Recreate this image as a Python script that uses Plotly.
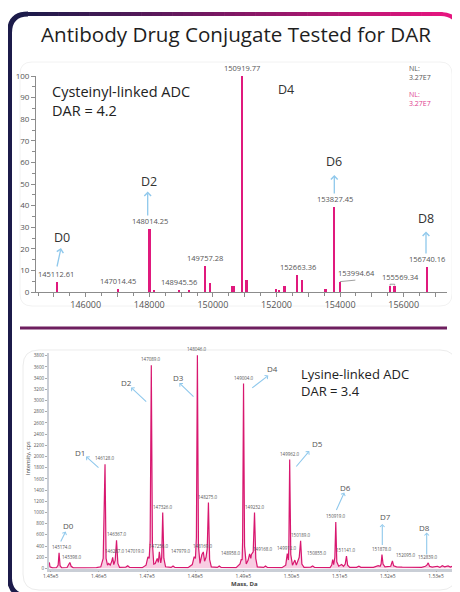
import plotly.graph_objects as go

W, H = 460, 592
OFF = 8  # the page body adds an 8px margin; compensate so the figure lands where the reference has it

# ---------------- data: cysteinyl-linked ADC (deconvoluted sticks) ----------------
cys_mass = [145112.61, 147014.45, 148014.25, 148150, 148945.56, 149248, 149757.28, 149909,
            150600, 150665, 150919.77, 151063, 151984, 152088, 152258, 152663.36, 152802,
            153547, 153827.45, 153994.64, 155569.34, 155717, 156740.16]
cys_int = [4.8, 1.3, 29.0, 0.5, 1.0, 0.5, 12.2, 4.3, 3.0, 3.0, 100, 5.5, 1.3, 1.0, 3.0, 7.7, 5.7,
           1.3, 39.2, 4.6, 2.6, 2.6, 11.6]
cys_labelled = [145112.61, 147014.45, 148014.25, 148945.56, 149757.28, 150919.77, 152663.36,
                153827.45, 153994.64, 155569.34, 156740.16]
cys_x_ticks = [145000, 146000, 147000, 148000, 149000, 150000, 151000, 152000, 153000,
               154000, 155000, 156000, 157000]

# ---------------- data: lysine-linked ADC (profile spectrum) ----------------
lys_mass = [144972, 144985, 145040, 145120, 145155, 145174, 145195, 145230, 145340, 145375, 145398,
            145425, 145470, 145700, 145950, 146040, 146090, 146128, 146150, 146180, 146205, 146235,
            146265, 146287, 146310, 146340, 146367, 146395, 146430, 146560, 146600, 146640, 146900,
            146980, 147019, 147045, 147065, 147089, 147112, 147140, 147170, 147212, 147235, 147256,
            147285, 147305, 147326, 147350, 147385, 147500, 147540, 147580, 147850, 147940, 147979,
            148005, 148025, 148046, 148068, 148100, 148140, 148169, 148195, 148225, 148250, 148275,
            148300, 148335, 148460, 148500, 148540, 148850, 148930, 148958, 148975, 148985, 149004,
            149025, 149060, 149100, 149130, 149155, 149168, 149205, 149232, 149258, 149290, 149420,
            149460, 149500, 149800, 149880, 149912, 149935, 149945, 149962, 149985, 150020, 150070,
            150100, 150160, 150189, 150215, 150260, 150400, 150440, 150480, 150800, 150835, 150855,
            150875, 150900, 150919, 150940, 150980, 151040, 151080, 151115, 151141, 151165, 151210,
            151350, 151400, 151440, 151700, 151800, 151840, 151860, 151878, 151900, 151940, 152060,
            152095, 152120, 152180, 152300, 152450, 152700, 152780, 152810, 152839, 152865, 152920,
            153030, 153080, 153130, 153180, 153250, 153300, 153332]
lys_int = [110, 30, 12, 14, 60, 279, 50, 12, 18, 70, 107,
           40, 12, 12, 15, 30, 180, 1862, 180, 60, 90, 60,
           120, 200, 70, 150, 505, 90, 20, 25, 50, 20, 15,
           60, 207, 180, 500, 3630, 450, 80, 90, 180, 110, 296,
           100, 200, 1000, 180, 30, 20, 45, 20, 15, 70, 210,
           180, 550, 3809, 400, 90, 250, 296, 130, 200, 350, 1178,
           160, 30, 20, 45, 20, 15, 80, 166, 150, 500, 3303,
           400, 80, 150, 260, 180, 250, 300, 1000, 180, 30, 20,
           45, 20, 15, 60, 268, 150, 400, 1946, 250, 60, 150,
           60, 200, 493, 80, 20, 25, 45, 20, 15, 60, 161,
           70, 200, 832, 120, 40, 70, 40, 80, 220, 60, 20,
           20, 40, 20, 20, 50, 40, 80, 250, 80, 30, 40,
           136, 50, 30, 25, 20, 20, 40, 60, 100, 40, 25,
           40, 20, 50, 30, 45, 25, 40]
lys_labelled = [145174, 145398, 146128, 146287, 146367, 147019, 147089, 147256, 147326, 147979,
                148046, 148169, 148275, 148958, 149004, 149168, 149232, 149912, 149962, 150189,
                150855, 150919, 151141, 151878, 152095, 152839]
lys_x_ticks = [145000, 146000, 147000, 148000, 149000, 150000, 151000, 152000, 153000]
lys_x_text = ["1.45e5", "1.46e5", "1.47e5", "1.48e5", "1.49e5", "1.50e5", "1.51e5", "1.52e5", "1.53e5"]

FONT = "Open Sans"
MAGENTA = "#e0197d"
BLUE = "#8fc8ec"


def P(x, y):
    return (x - OFF) / W, 1 - (y - OFF) / H


def path(cmds):
    out = []
    for c in cmds:
        if isinstance(c, str):
            out.append(c)
        else:
            a, b = P(*c)
            out.append(f"{a:.5f},{b:.5f}")
    return " ".join(out)


def rrect(x0, y0, x1, y1, r):
    return path(["M", (x0 + r, y0), "L", (x1 - r, y0), "Q", (x1, y0), (x1, y0 + r),
                 "L", (x1, y1 - r), "Q", (x1, y1), (x1 - r, y1), "L", (x0 + r, y1),
                 "Q", (x0, y1), (x0, y1 - r), "L", (x0, y0 + r), "Q", (x0, y0), (x0 + r, y0), "Z"])


fig = go.Figure()

# top sticks
fig.add_trace(go.Bar(x=cys_mass, y=cys_int, width=55, marker=dict(color=MAGENTA, line=dict(width=0)),
                     xaxis="x", yaxis="y", showlegend=False, hoverinfo="x+y"))

# bottom profile
fig.add_trace(go.Scatter(x=lys_mass, y=lys_int, mode="lines", xaxis="x2", yaxis="y2",
                         line=dict(color="#d8176f", width=1.2), fill="tozeroy",
                         fillcolor="rgba(232,90,160,0.30)", showlegend=False))

shapes = []
annotations = []

# outer frame (gradient top edge)
navy = (28, 27, 74)
mag = (229, 21, 127)
shapes.append(dict(type="path", xref="paper", yref="paper",
                   path=path(["M", (28, 14), "Q", (9.5, 14), (9.5, 33), "L", (9.5, 578), "Q", (9.5, 594), (26, 597)]),
                   line=dict(color="rgb(28,27,74)", width=5)))
N = 40
x_start, x_end = 27, 442
for i in range(N):
    t = (i + 0.5) / N
    col = tuple(round(navy[k] + (mag[k] - navy[k]) * t) for k in range(3))
    xa = x_start + (x_end - x_start) * i / N
    xb = x_start + (x_end - x_start) * (i + 1) / N + 0.6
    a0, b0 = P(xa, 14)
    a1, b1 = P(xb, 14)
    shapes.append(dict(type="line", xref="paper", yref="paper", x0=a0, y0=b0, x1=a1, y1=b1,
                       line=dict(color=f"rgb{col}", width=4)))
shapes.append(dict(type="path", xref="paper", yref="paper",
                   path=path(["M", (441, 14), "Q", (459, 14), (461, 36)]),
                   line=dict(color="rgb(229,21,127)", width=4)))

# faint panels
shapes.append(dict(type="path", xref="paper", yref="paper", path=rrect(20, 62, 452, 306, 12),
                   line=dict(color="#f2f2f2", width=1), layer="below"))
shapes.append(dict(type="path", xref="paper", yref="paper", path=rrect(23, 350, 456, 590, 16),
                   line=dict(color="#ececec", width=1), layer="below"))

# separator
a0, b0 = P(20, 328)
a1, b1 = P(447, 328)
shapes.append(dict(type="line", xref="paper", yref="paper", x0=a0, y0=b0, x1=a1, y1=b1,
                   line=dict(color="#6e1f5f", width=3)))


def ptext(x, y, text, size, color="#333", xanchor="center", angle=0):
    a, b = P(x, y)
    annotations.append(dict(x=a, y=b, xref="paper", yref="paper", text=text, showarrow=False,
                            xanchor=xanchor, yanchor="middle", textangle=angle, align=xanchor if xanchor != "center" else "center",
                            font=dict(family=FONT, size=size, color=color)))


def parrow(tx_, ty_, hx, hy, width=1.3, size=1.0):
    a, b = P(hx, hy)
    annotations.append(dict(x=a, y=b, xref="paper", yref="paper", text="", showarrow=True,
                            ax=tx_ - hx, ay=ty_ - hy, axref="pixel", ayref="pixel",
                            arrowhead=4, arrowsize=size, arrowwidth=width, arrowcolor=BLUE, standoff=0,
                            startstandoff=0))


# title
ptext(236, 34, "Antibody Drug Conjugate Tested for DAR", 20.6, "#1e1e1e")

# top chart texts
ptext(50, 101, "Cysteinyl-linked ADC<br>DAR = 4.2", 14.5, "#222", "left")
ptext(407, 73, "NL:<br>3.27E7", 7, "#555", "left")
ptext(407, 99, "NL:<br>3.27E7", 7, "#e0408f", "left")
for lab, (x, y) in {"D0": (62, 237), "D2": (149, 181), "D4": (286, 89), "D6": (334, 162), "D8": (426, 219)}.items():
    ptext(x, y, lab, 12.5, "#333")
parrow(56.7, 268, 61, 248)
parrow(147.7, 217, 147.7, 191.5)
parrow(334.3, 195, 334.3, 175)
parrow(426, 255, 426, 231.5)

# top peak labels (data coords)
shift = {153994.64: (17, 2), 155569.34: (10, 2), 145112.61: (-1, 1)}
for m in cys_labelled:
    h = cys_int[cys_mass.index(m)]
    dx, dy = shift.get(m, (0, 1))
    annotations.append(dict(x=m, y=h, xref="x", yref="y", text=f"{m:.2f}", showarrow=False,
                            yanchor="bottom", xanchor="center", xshift=dx, yshift=dy,
                            font=dict(family=FONT, size=7.5, color="#555")))
shapes.append(dict(type="line", xref="x", yref="y", x0=153994.64, y0=4.8, x1=154480, y1=5.5,
                   line=dict(color="#888", width=0.8)))
shapes.append(dict(type="path", xref="x", yref="y",
                   path="M 155569.34,3.0 L 155569.34,3.6 L 155717,3.6 L 155717,3.0",
                   line=dict(color="#888", width=0.8)))

# bottom chart texts
ptext(299, 382, "Lysine-linked ADC<br>DAR = 3.4", 13, "#222", "left")
bl = {"D0": (68, 525), "D1": (79.5, 452), "D2": (126, 382), "D3": (178.5, 377), "D4": (272, 368),
      "D5": (317.5, 443), "D6": (345, 487), "D7": (385, 516), "D8": (424.5, 527)}
for lab, (x, y) in bl.items():
    ptext(x, y, lab, 8, "#555")
parrow(60, 543, 65.7, 531.5, 1.1, 0.8)
parrow(100, 469, 86, 456.5, 1.1, 0.8)
parrow(147.7, 403, 131, 387.5, 1.1, 0.8)
parrow(195, 398, 179.3, 383, 1.1, 0.8)
parrow(250.7, 389, 268.3, 375.5, 1.1, 0.8)
parrow(295, 468, 309.3, 451, 1.1, 0.8)
parrow(335.7, 511.5, 344.3, 492.5, 1.1, 0.8)
parrow(382.3, 546.5, 382.3, 524, 1.1, 0.8)
parrow(426.7, 556, 426.7, 532.5, 1.1, 0.8)

lshift = {145174: 3, 145398: 2, 146287: 2, 147019: -13, 147979: -13, 148958: -10, 149168: 12,
          150855: -16, 152095: 14}
for m in lys_labelled:
    h = lys_int[lys_mass.index(m)]
    annotations.append(dict(x=m, y=h, xref="x2", yref="y2", text=f"{m:.1f}", showarrow=False,
                            yanchor="bottom", xanchor="center", yshift=1, xshift=lshift.get(m, 0),
                            font=dict(family=FONT, size=4.5, color="#555")))

ptext(28, 458, "Intensity, cps", 5.5, "#444", angle=-90)
ptext(244, 583.5, "<b>Mass, Da</b>", 6, "#444")

x0, _ = P(36, 0)
x1, _ = P(447, 0)
_, y0 = P(0, 292)
_, y1 = P(0, 76)
bx0, _ = P(49, 0)
bx1, _ = P(452, 0)
_, by0 = P(0, 568.5)
_, by1 = P(0, 353)

fig.update_layout(
    width=W, height=H, autosize=False,
    margin=dict(l=0, r=0, t=0, b=0, pad=0, autoexpand=False),
    paper_bgcolor="white", plot_bgcolor="rgba(0,0,0,0)",
    bargap=0,
    font=dict(family=FONT),
    xaxis=dict(domain=[x0, x1], range=[144437, 157362], showgrid=False, zeroline=False, automargin=False,
               showline=True, linecolor="#8c8c8c", linewidth=1,
               ticks="outside", ticklen=4, tickcolor="#8c8c8c", tickwidth=1,
               tickmode="array", tickvals=cys_x_ticks,
               ticktext=[str(v) if v % 2000 == 0 else "" for v in cys_x_ticks],
               minor=dict(dtick=500, tick0=0, ticks="outside", ticklen=3, tickcolor="#8c8c8c"),
               tickfont=dict(size=9, color="#555"), anchor="y", fixedrange=True),
    yaxis=dict(domain=[y0, y1], range=[0, 100], showgrid=False, zeroline=False, automargin=False,
               showline=True, linecolor="#8c8c8c", linewidth=1,
               ticks="outside", ticklen=4, tickcolor="#8c8c8c", dtick=10,
               minor=dict(dtick=5, ticks="outside", ticklen=3, tickcolor="#8c8c8c"),
               tickfont=dict(size=8, color="#555"), anchor="x"),
    xaxis2=dict(domain=[bx0, bx1], range=[144965, 153332], showgrid=False, zeroline=False, automargin=False,
                showline=True, linecolor="#c9ced6", linewidth=2.5,
                ticks="outside", ticklen=1, tickcolor="#aaa",
                tickmode="array", tickvals=lys_x_ticks, ticktext=lys_x_text,
                tickfont=dict(size=5, color="#555"), anchor="y2"),
    yaxis2=dict(domain=[by0, by1], range=[0, 3850], showgrid=False, zeroline=False, automargin=False,
                showline=True, linecolor="#c9ced6", linewidth=2,
                ticks="outside", ticklen=2, tickcolor="#aaa", dtick=200,
                tickfont=dict(size=4.5, color="#555"), anchor="x2"),
    shapes=shapes, annotations=annotations,
)

fig.write_html("out.html")
